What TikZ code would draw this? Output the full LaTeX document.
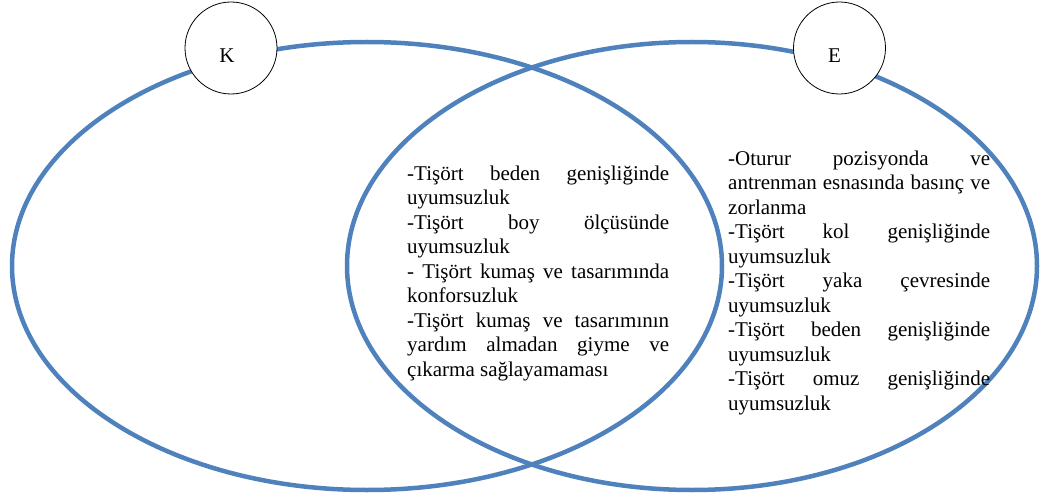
\documentclass[tikz,border=0pt]{standalone}
\usepackage{fontspec}
\setmainfont{Liberation Serif}
\usetikzlibrary{shapes.geometric}
\definecolor{vennblue}{RGB}{79,129,189}
\hyphenpenalty=10000
\exhyphenpenalty=10000
\tolerance=10000
\hbadness=10000
\tikzset{
ellipsenodev1/.style={ellipse, draw=vennblue, fill=none, line width=4.5pt, inner sep=0pt, minimum width=710pt, minimum height=448pt},
ellipsenodev2/.style={ellipse, draw=vennblue, fill=none, line width=4.5pt, inner sep=0pt, minimum width=690pt, minimum height=448pt},
setcirclev1/.style={circle, draw=black!100, fill=white!100, line width=0.8pt, inner sep=0pt, minimum size=92pt},
textblockv1/.style={anchor=north west, inner sep=0pt, text width=262pt, align=justify, font=\fontsize{21}{24.5}\selectfont},
}

\begin{document}
\begin{tikzpicture}[x=1pt, y=-1pt]
    \useasboundingbox (0,0) rectangle (1042,500);
    \node[ellipsenodev1] at (367,266) (k) {};
    \node[ellipsenodev2] at (692,266) (e) {};
    \node[setcirclev1] at (231,48) (kc) [label = {[xshift=-4pt, yshift=-8pt, font=\fontsize{21}{24.5}\selectfont]center:K}] {};
    \node[setcirclev1] at (839.5,48) (ec) [label = {[xshift=-5pt, yshift=-8pt, font=\fontsize{21}{24.5}\selectfont]center:E}] {};
    % ortak alan
    \node[textblockv1] at (407,165.5) (ke) {-Tişört beden genişliğinde\linebreak uyumsuzluk\par
    -Tişört boy ölçüsünde\linebreak uyumsuzluk\par
    -~Tişört kumaş ve tasarımında\linebreak konforsuzluk\par
    -Tişört kumaş ve tasarımının\linebreak yardım almadan giyme ve\linebreak çıkarma sağlayamaması};
    % yalnizca E
    \node[textblockv1] at (728,150.5) (eo) {-Oturur pozisyonda ve\linebreak antrenman esnasında basınç ve\linebreak zorlanma\par
    -Tişört kol genişliğinde\linebreak uyumsuzluk\par
    -Tişört yaka çevresinde\linebreak uyumsuzluk\par
    -Tişört beden genişliğinde\linebreak uyumsuzluk\par
    -Tişört omuz genişliğinde\linebreak uyumsuzluk};
\end{tikzpicture}
\end{document}
